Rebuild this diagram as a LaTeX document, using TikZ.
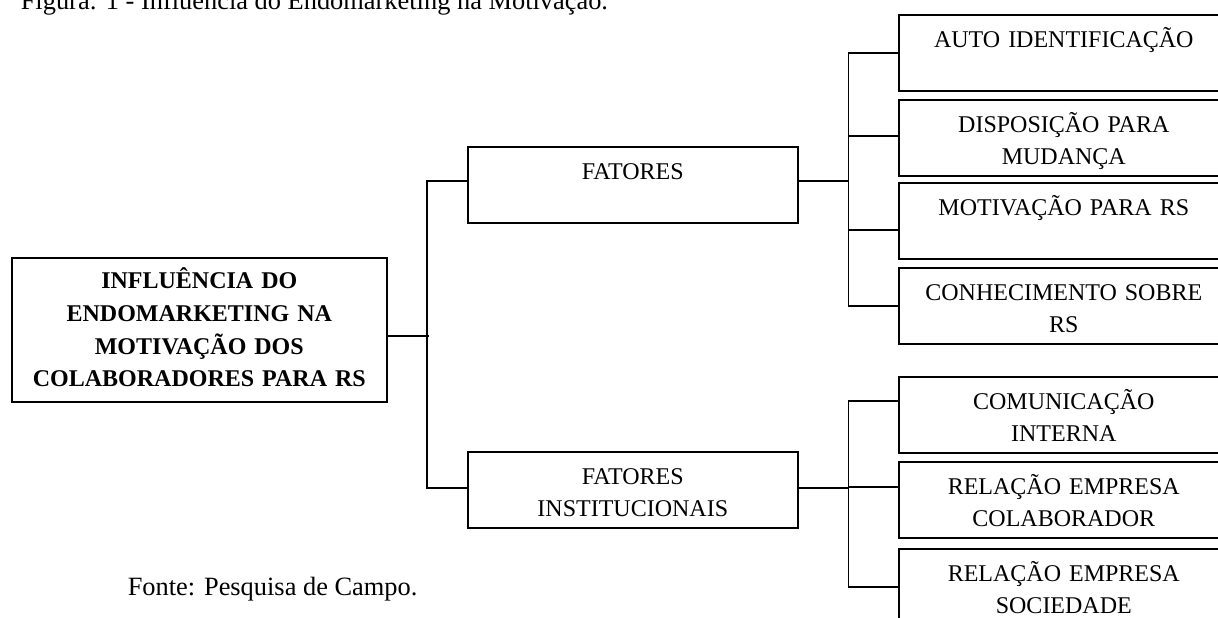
\documentclass[tikz,border=0pt]{standalone}
\usepackage{fontspec}
\setmainfont{Liberation Serif}
\usetikzlibrary{positioning}

\begin{document}
\begin{tikzpicture}[x=0.5pt, y=-0.5pt, line width=0.8pt]
	\clip (0,0) rectangle (1218,617);
	\useasboundingbox (0,0) rectangle (1218,617);

	% box style, the text sits near the top edge
	\tikzstyle{item box} = [draw, rectangle, anchor=north west, inner sep=0pt, align=center, text width=165pt, text height=16.5pt, text depth=21.5pt, font=\fontsize{12}{16}\selectfont]
	\tikzstyle{main box} = [item box, text width=187.5pt, text height=15.5pt, text depth=56.5pt, font=\fontsize{12}{16.3}\selectfont\bfseries]
	\tikzstyle{plain text} = [anchor=base west, inner sep=0pt, font=\fontsize{13.2}{16}\selectfont]

	\node[plain text] (caption) at (20,9) {Figura: 1 - Influência do Endomarketing na Motivação.};
	\node[plain text] (source) at (127,595) {Fonte: Pesquisa de Campo.};

	\node[main box] (root) at (11,257) {INFLUÊNCIA DO\\ ENDOMARKETING NA\\ MOTIVAÇÃO DOS\\ COLABORADORES PARA RS};

	\node[item box] (fat) at (467,146) {FATORES};
	\node[item box] (inst) at (467,451) {FATORES\\ INSTITUCIONAIS};

	\node[item box] (auto) at (898,14) {AUTO IDENTIFICAÇÃO};
	\node[item box] (disp) at (898,99) {DISPOSIÇÃO PARA\\ MUDANÇA};
	\node[item box] (motiv) at (898,182) {MOTIVAÇÃO PARA RS};
	\node[item box] (conh) at (898,267) {CONHECIMENTO SOBRE\\ RS};

	\node[item box] (comun) at (898,376) {COMUNICAÇÃO\\ INTERNA};
	\node[item box] (colab) at (898,461) {RELAÇÃO EMPRESA\\ COLABORADOR};
	\node[item box] (soc) at (898,548) {RELAÇÃO EMPRESA\\ SOCIEDADE};

	% tree connectors
	\draw ([yshift=-3pt]root.east) -- ++(41,0);
	\draw ([yshift=2pt]fat.west) -- ++(-40,0) |- ([yshift=1pt]inst.west);
	\foreach \c/\s in {auto/0,disp/1,motiv/-4.5,conh/0}
		\draw ([yshift=2pt]fat.east) -- ++(50,0) |- ([yshift=\s pt]\c.west);
	\foreach \c/\s in {comun/7,colab/6.5,soc/0}
		\draw ([yshift=1pt]inst.east) -- ++(50,0) |- ([yshift=\s pt]\c.west);
\end{tikzpicture}
\end{document}
